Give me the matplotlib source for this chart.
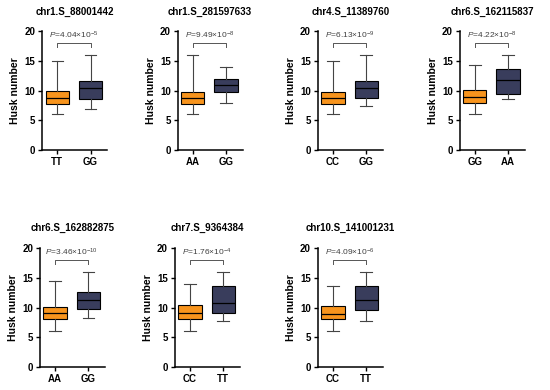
import numpy as np
import matplotlib
matplotlib.use('Agg')
import matplotlib.pyplot as plt

plt.rcParams['font.family'] = ['Liberation Sans', 'DejaVu Sans']
plt.rcParams['mathtext.fontset'] = 'custom'
plt.rcParams['mathtext.rm'] = 'Liberation Sans'
plt.rcParams['mathtext.it'] = 'Liberation Sans:italic'

# panel data: title, genotypes, p-value text, box stats (whislo, q1, med, q3, whishi)
titles = ['chr1.S_88001442', 'chr1.S_281597633', 'chr4.S_11389760', 'chr6.S_162115837',
          'chr6.S_162882875', 'chr7.S_9364384', 'chr10.S_141001231']
genotypes = [['TT', 'GG'], ['AA', 'GG'], ['CC', 'GG'], ['GG', 'AA'],
             ['AA', 'GG'], ['CC', 'TT'], ['CC', 'TT']]
p_mant = ['4.04', '9.49', '6.13', '4.22', '3.46', '1.76', '4.09']
p_exp = ['-5', '-8', '-9', '-8', '-10', '-4', '-6']

# first genotype (orange)
low_a = [6.0, 6.0, 6.0, 6.0, 6.0, 6.0, 6.0]
q1_a = [7.8, 7.8, 7.8, 7.9, 8.0, 8.05, 8.0]
med_a = [8.8, 8.8, 8.8, 9.0, 9.0, 9.1, 8.9]
q3_a = [10.0, 9.8, 9.7, 10.1, 10.05, 10.45, 10.3]
high_a = [15.0, 16.0, 15.0, 14.4, 14.45, 14.0, 13.7]

# second genotype (navy)
low_b = [7.0, 7.85, 7.5, 8.6, 8.2, 7.65, 7.7]
q1_b = [8.6, 9.85, 8.7, 9.5, 9.7, 9.1, 9.5]
med_b = [10.4, 10.9, 10.5, 11.75, 11.3, 10.7, 11.3]
q3_b = [11.7, 11.9, 11.7, 13.6, 12.6, 13.6, 13.6]
high_b = [16.0, 14.0, 16.0, 16.0, 16.0, 16.0, 16.0]

colors = ['#F7941D', '#393D5C']

# axes positions (figure fraction)
lefts = [0.077, 0.323, 0.578, 0.836, 0.073, 0.318, 0.578]
bottoms = [0.615] * 4 + [0.059] * 3
w, h = 0.118, 0.305

fig = plt.figure(figsize=(5.5, 3.9), dpi=100)

for i in range(7):
    ax = fig.add_axes([lefts[i], bottoms[i], w, h])
    stats = [
        dict(whislo=low_a[i], q1=q1_a[i], med=med_a[i], q3=q3_a[i], whishi=high_a[i], fliers=[]),
        dict(whislo=low_b[i], q1=q1_b[i], med=med_b[i], q3=q3_b[i], whishi=high_b[i], fliers=[]),
    ]
    bp = ax.bxp(stats, positions=[1, 2], widths=0.7, patch_artist=True, showfliers=False,
                boxprops=dict(linewidth=0.8, edgecolor='black'),
                medianprops=dict(color='black', linewidth=0.9),
                whiskerprops=dict(color='#444444', linewidth=0.8),
                capprops=dict(color='#444444', linewidth=0.8),
                capwidths=0.35)
    for patch, c in zip(bp['boxes'], colors):
        patch.set_facecolor(c)

    # significance bracket
    ax.plot([1, 1, 2, 2], [17.3, 18.0, 18.0, 17.3], color='#555555', linewidth=0.7)
    ax.text(1.5, 18.3, r'$\it{P}$=' + p_mant[i] + r'×10$^{' + p_exp[i] + '}$',
            ha='center', va='bottom', fontsize=6, color='#404040')

    ax.set_xlim(0.55, 2.5)
    ax.set_ylim(0, 20)
    ax.set_yticks([0, 5, 10, 15, 20])
    ax.set_xticks([1, 2])
    ax.set_xticklabels(genotypes[i], fontweight='bold', fontsize=7)
    for lab in ax.get_yticklabels():
        lab.set_fontweight('bold')
        lab.set_fontsize(7)
    ax.tick_params(width=1.0, length=3, pad=2)
    ax.spines['top'].set_visible(False)
    ax.spines['right'].set_visible(False)
    ax.spines['left'].set_linewidth(1.1)
    ax.spines['bottom'].set_linewidth(1.1)
    ax.set_ylabel('Husk number', fontweight='bold', fontsize=7.5, labelpad=3)
    ax.set_title(titles[i], fontweight='bold', fontsize=7, pad=12)

fig.savefig('out.png', dpi=100)
